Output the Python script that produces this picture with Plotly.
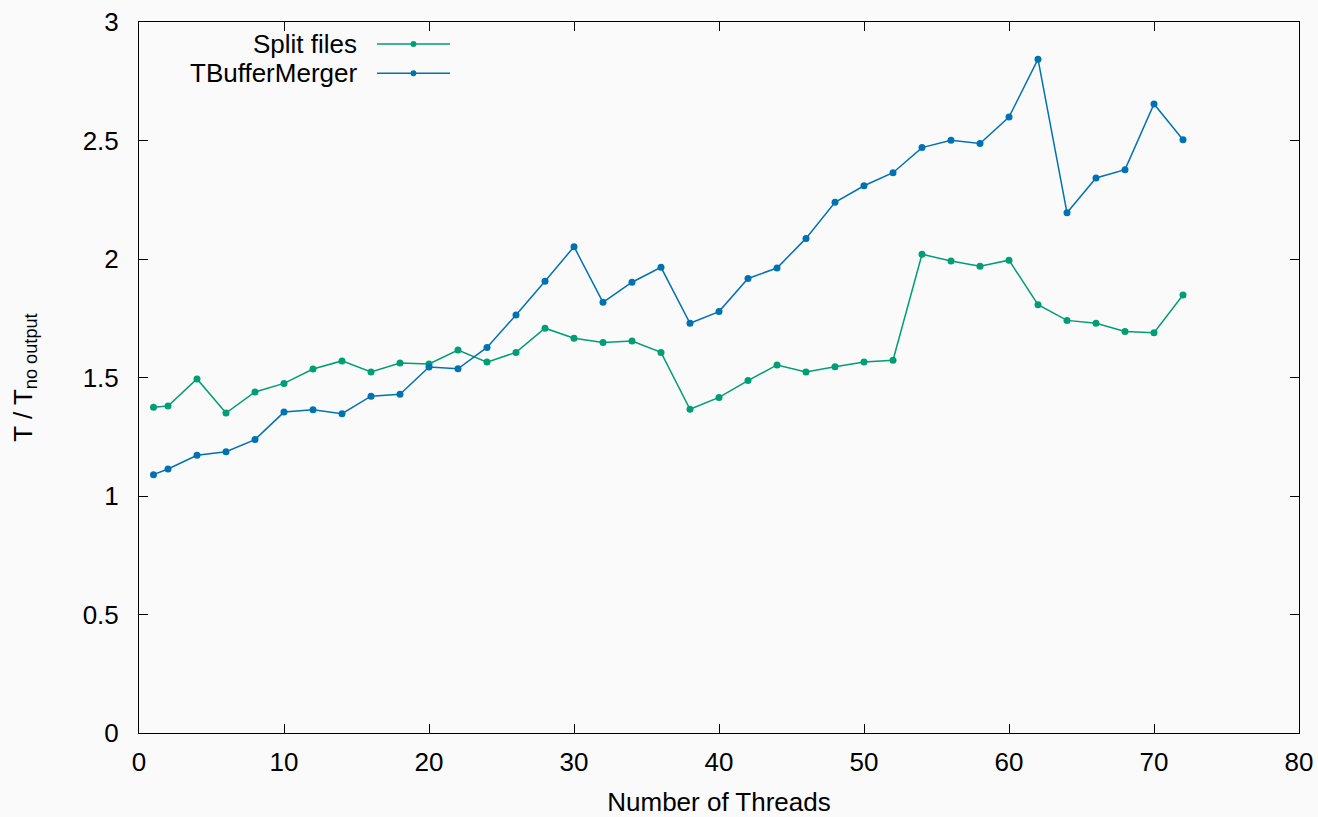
import plotly.graph_objects as go

threads = [1, 2, 4, 6, 8, 10, 12, 14, 16, 18, 20, 22, 24, 26, 28, 30, 32, 34, 36,
           38, 40, 42, 44, 46, 48, 50, 52, 54, 56, 58, 60, 62, 64, 66, 68, 70, 72]

split_files = [1.375, 1.380, 1.494, 1.350, 1.439, 1.475, 1.536, 1.570, 1.523, 1.561,
               1.557, 1.616, 1.565, 1.606, 1.708, 1.666, 1.648, 1.654, 1.606, 1.366,
               1.416, 1.487, 1.553, 1.523, 1.545, 1.565, 1.573, 2.020, 1.992, 1.969,
               1.995, 1.807, 1.741, 1.729, 1.694, 1.689, 1.848]

buffer_merger = [1.090, 1.114, 1.172, 1.187, 1.238, 1.354, 1.364, 1.347, 1.421, 1.429,
                 1.544, 1.537, 1.627, 1.764, 1.906, 2.052, 1.817, 1.902, 1.965, 1.729,
                 1.778, 1.918, 1.962, 2.087, 2.239, 2.309, 2.364, 2.470, 2.501, 2.487,
                 2.599, 2.843, 2.195, 2.342, 2.377, 2.654, 2.503]

series_names = ["Split files", "TBufferMerger"]
series_colors = ["#009e73", "#0072b2"]

x_ticks = [0, 10, 20, 30, 40, 50, 60, 70, 80]
y_ticks = [0, 0.5, 1, 1.5, 2, 2.5, 3]

FONT = "Liberation Sans, Arial, sans-serif"
FS = 26
BG = "#fafafa"

fig = go.Figure()
for name, vals, col in zip(series_names, [split_files, buffer_merger], series_colors):
    fig.add_trace(go.Scatter(
        x=threads, y=vals, mode="lines+markers", name=name,
        line=dict(color=col, width=1.5),
        marker=dict(color=col, size=7, symbol="circle"),
        showlegend=False,
    ))

# gnuplot-style key: text right-aligned, sample line to its right
legend_y = [0.969, 0.928]
for name, col, ly in zip(series_names, series_colors, legend_y):
    fig.add_annotation(xref="paper", yref="paper", x=0.1897, y=ly, text=name,
                       showarrow=False, xanchor="right", yanchor="middle",
                       font=dict(family=FONT, size=FS, color="#000000"))
    fig.add_shape(type="line", xref="paper", yref="paper", x0=0.2052, x1=0.2681,
                  y0=ly, y1=ly, line=dict(color=col, width=1.5))
    fig.add_shape(type="circle", xref="paper", yref="paper",
                  x0=0.2366 - 0.0025, x1=0.2366 + 0.0025,
                  y0=ly - 0.0042, y1=ly + 0.0042,
                  fillcolor=col, line=dict(color=col, width=0))

axis_common = dict(
    showgrid=False, zeroline=False, showline=True, linecolor="#000000", linewidth=1,
    mirror="allticks", ticks="inside", ticklen=9, tickwidth=1, tickcolor="#000000",
    tickfont=dict(family=FONT, size=FS, color="#000000"),
)

fig.update_xaxes(range=[0, 80], tickvals=x_ticks, ticktext=[str(v) for v in x_ticks],
                 ticklabelstandoff=6,
                 title=dict(text="Number of Threads", font=dict(family=FONT, size=FS, color="#000000"),
                            standoff=18),
                 **axis_common)
fig.update_yaxes(range=[0, 3], tickvals=y_ticks, ticktext=[f"{v:g}" for v in y_ticks],
                 ticklabelstandoff=14,
                 title=dict(text="T / T<sub>no output</sub>", font=dict(family=FONT, size=FS, color="#000000"),
                            standoff=42),
                 **axis_common)

fig.update_layout(
    width=1318, height=817,
    margin=dict(l=139, r=19, t=22, b=84, autoexpand=False),
    paper_bgcolor=BG, plot_bgcolor=BG,
    font=dict(family=FONT, size=FS, color="#000000"),
)

fig.write_html("out.html", config={"displayModeBar": False})
